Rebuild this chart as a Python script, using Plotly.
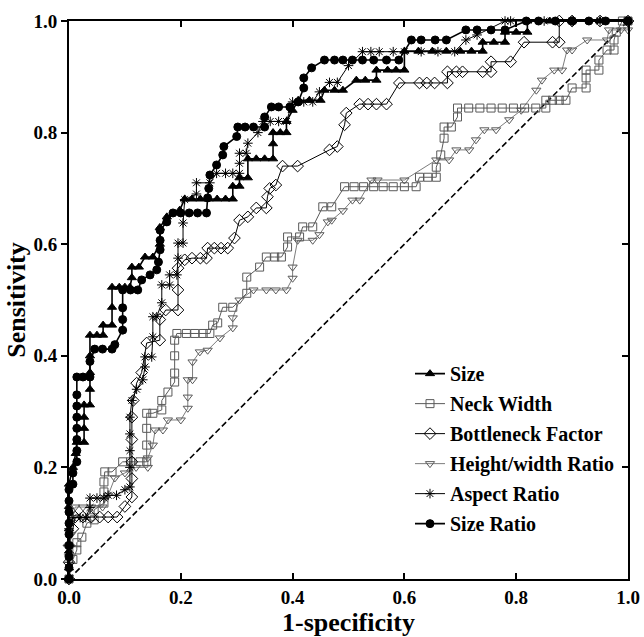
import plotly.graph_objects as go

# ---- data (1-specificity, sensitivity) ----
size_x = [0, 0, 0, 0, 0, 0, 0.007, 0.012, 0.014, 0.027, 0.027, 0.027, 0.027, 0.0375, 0.0375, 0.0375, 0.0375, 0.0375,
          0.05, 0.061, 0.061, 0.077, 0.077, 0.077, 0.09, 0.1, 0.109, 0.1125, 0.1125, 0.125, 0.136, 0.15, 0.1625, 0.1625,
          0.175, 0.198, 0.207, 0.22, 0.235, 0.25, 0.265, 0.28, 0.293, 0.293, 0.305, 0.305, 0.32, 0.32, 0.335, 0.35,
          0.365, 0.365, 0.365, 0.378, 0.389, 0.389, 0.4, 0.41, 0.43, 0.45, 0.457, 0.475, 0.49, 0.514, 0.53, 0.55,
          0.55, 0.57, 0.585, 0.6, 0.6, 0.625, 0.65, 0.675, 0.7, 0.72, 0.74, 0.74, 0.76, 0.78, 0.78, 0.8, 0.82, 0.82,
          0.86, 0.9, 0.95, 1.0]
size_y = [0, 0.02, 0.05, 0.09, 0.13, 0.17, 0.2, 0.225, 0.245, 0.245, 0.27, 0.29, 0.312, 0.312, 0.34, 0.37, 0.4, 0.437,
          0.437, 0.437, 0.455, 0.455, 0.487, 0.523, 0.523, 0.523, 0.523, 0.54, 0.559, 0.559, 0.577, 0.577, 0.6, 0.63,
          0.649, 0.661, 0.681, 0.681, 0.681, 0.681, 0.681, 0.681, 0.681, 0.704, 0.704, 0.719, 0.719, 0.753, 0.753, 0.753,
          0.753, 0.78, 0.8, 0.8, 0.8, 0.82, 0.84, 0.858, 0.858, 0.858, 0.876, 0.876, 0.876, 0.894, 0.894, 0.894,
          0.912, 0.912, 0.912, 0.912, 0.946, 0.946, 0.946, 0.946, 0.946, 0.946, 0.946, 0.962, 0.962, 0.962, 0.98, 0.98, 0.98, 1.0,
          1.0, 1.0, 1.0, 1.0]

neck_x = [0, 0.007, 0.014, 0.014, 0.023, 0.032, 0.045, 0.045, 0.0625, 0.0625, 0.0625, 0.064, 0.077, 0.096, 0.11, 0.127,
          0.139, 0.139, 0.139, 0.139, 0.15, 0.166, 0.166, 0.177, 0.189, 0.189, 0.189, 0.189, 0.193, 0.21, 0.225, 0.24,
          0.252, 0.257, 0.266, 0.275, 0.293, 0.318, 0.318, 0.341, 0.353, 0.368, 0.38, 0.391, 0.391, 0.4125, 0.418,
          0.436, 0.454, 0.47, 0.493, 0.51, 0.527, 0.545, 0.562, 0.58, 0.6, 0.621, 0.627, 0.642, 0.657, 0.657, 0.665,
          0.671, 0.671, 0.684, 0.695, 0.695, 0.715, 0.735, 0.755, 0.775, 0.795, 0.815, 0.835, 0.853, 0.853, 0.865,
          0.877, 0.889, 0.9, 0.925, 0.925, 0.925, 0.948, 0.948, 0.9625, 0.975, 0.975, 0.979, 0.99, 1.0]
neck_y = [0, 0.035, 0.052, 0.065, 0.075, 0.1, 0.106, 0.124, 0.136, 0.156, 0.174, 0.192, 0.192, 0.21, 0.21, 0.21,
          0.21, 0.24, 0.27, 0.297, 0.297, 0.303, 0.32, 0.335, 0.353, 0.369, 0.4, 0.428, 0.44, 0.44, 0.44, 0.44,
          0.44, 0.455, 0.459, 0.487, 0.487, 0.512, 0.541, 0.559, 0.577, 0.577, 0.577, 0.595, 0.613, 0.613, 0.631,
          0.631, 0.667, 0.667, 0.703, 0.703, 0.703, 0.703, 0.703, 0.703, 0.703, 0.703, 0.72, 0.72, 0.72, 0.738, 0.76,
          0.79, 0.81, 0.81, 0.828, 0.844, 0.844, 0.844, 0.844, 0.844, 0.844, 0.844, 0.844, 0.844, 0.858, 0.858,
          0.858, 0.858, 0.88, 0.88, 0.898, 0.912, 0.912, 0.93, 0.948, 0.948, 0.966, 0.98, 1.0, 1.0]

bottle_x = [0, 0, 0, 0.007, 0.011, 0.025, 0.04, 0.055, 0.07, 0.086, 0.1, 0.1125, 0.1125, 0.1125, 0.1125, 0.1125, 0.115,
            0.121, 0.13, 0.139, 0.1625, 0.1625, 0.173, 0.195, 0.195, 0.195, 0.207, 0.22, 0.235, 0.246, 0.248, 0.26,
            0.272, 0.284, 0.296, 0.305, 0.32, 0.335, 0.353, 0.355, 0.359, 0.37, 0.382, 0.409, 0.466, 0.48, 0.493,
            0.496, 0.52, 0.535, 0.55, 0.568, 0.591, 0.627, 0.64, 0.654, 0.677, 0.677, 0.693, 0.704, 0.74, 0.755,
            0.755, 0.79, 0.814, 0.865, 0.877, 0.877, 0.9, 0.95, 1.0]
bottle_y = [0, 0.03, 0.06, 0.09, 0.111, 0.111, 0.111, 0.111, 0.111, 0.111, 0.13, 0.147, 0.18, 0.21, 0.25, 0.29, 0.32,
            0.351, 0.37, 0.423, 0.428, 0.465, 0.482, 0.482, 0.518, 0.557, 0.572, 0.575, 0.575, 0.575, 0.593, 0.593,
            0.593, 0.593, 0.611, 0.643, 0.649, 0.665, 0.665, 0.685, 0.7, 0.706, 0.74, 0.74, 0.769, 0.775, 0.814,
            0.835, 0.851, 0.851, 0.851, 0.851, 0.889, 0.889, 0.889, 0.889, 0.889, 0.909, 0.909, 0.909, 0.909, 0.909,
            0.927, 0.927, 0.962, 0.962, 0.962, 1.0, 1.0, 1.0, 1.0]

hw_x = [0, 0, 0.004, 0.007, 0.011, 0.025, 0.04, 0.06, 0.07, 0.082, 0.1, 0.12, 0.141, 0.141, 0.15, 0.154, 0.168, 0.177,
        0.2, 0.2125, 0.2125, 0.2125, 0.221, 0.221, 0.234, 0.248, 0.27, 0.293, 0.293, 0.305, 0.33, 0.353, 0.37, 0.389,
        0.4, 0.4, 0.409, 0.436, 0.448, 0.463, 0.47, 0.49, 0.507, 0.52, 0.541, 0.552, 0.6, 0.657, 0.68, 0.693, 0.716,
        0.728, 0.743, 0.764, 0.7875, 0.809, 0.836, 0.846, 0.868, 0.882, 0.891, 0.9, 0.927, 0.9625, 0.966, 0.9875,
        1.0, 1.0]
hw_y = [0, 0.04, 0.08, 0.11, 0.129, 0.129, 0.129, 0.129, 0.15, 0.181, 0.19, 0.2, 0.2, 0.217, 0.24, 0.267, 0.267, 0.285,
        0.285, 0.306, 0.326, 0.357, 0.357, 0.389, 0.407, 0.41, 0.432, 0.45, 0.468, 0.5, 0.518, 0.518, 0.518, 0.518,
        0.539, 0.559, 0.607, 0.607, 0.617, 0.64, 0.643, 0.66, 0.679, 0.679, 0.715, 0.715, 0.715, 0.751, 0.751, 0.769,
        0.769, 0.787, 0.805, 0.805, 0.823, 0.84, 0.876, 0.894, 0.912, 0.912, 0.948, 0.948, 0.966, 0.966, 0.984,
        0.984, 0.984, 1.0]

aspect_x = [0, 0, 0, 0, 0.007, 0.02, 0.03, 0.0375, 0.0375, 0.05, 0.0625, 0.07, 0.085, 0.1, 0.109, 0.109, 0.109, 0.109,
            0.109, 0.1125, 0.121, 0.132, 0.136, 0.136, 0.148, 0.15, 0.15, 0.157, 0.166, 0.166, 0.18, 0.18, 0.193, 0.195,
            0.195, 0.204, 0.204, 0.207, 0.228, 0.228, 0.252, 0.264, 0.28, 0.293, 0.305, 0.305, 0.305, 0.317, 0.32,
            0.338, 0.347, 0.36, 0.375, 0.389, 0.4, 0.42, 0.436, 0.448, 0.466, 0.48, 0.5, 0.525, 0.54, 0.555, 0.58,
            0.6, 0.63, 0.66, 0.69, 0.71, 0.73, 0.78, 0.79, 0.85, 0.9, 0.95, 1.0]
aspect_y = [0, 0.03, 0.06, 0.09, 0.11, 0.11, 0.11, 0.128, 0.145, 0.145, 0.145, 0.15, 0.15, 0.16, 0.165, 0.2, 0.23, 0.26,
            0.29, 0.32, 0.34, 0.357, 0.38, 0.398, 0.398, 0.434, 0.47, 0.47, 0.495, 0.527, 0.527, 0.545, 0.545, 0.575,
            0.602, 0.602, 0.638, 0.68, 0.69, 0.71, 0.71, 0.727, 0.727, 0.727, 0.727, 0.745, 0.763, 0.763, 0.781,
            0.8, 0.82, 0.82, 0.82, 0.82, 0.855, 0.855, 0.855, 0.873, 0.89, 0.89, 0.92, 0.945, 0.945, 0.945, 0.945,
            0.945, 0.945, 0.945, 0.945, 0.966, 0.975, 1.0, 1.0, 1.0, 1.0, 1.0, 1.0]

ratio_x = [0, 0, 0, 0, 0, 0, 0, 0, 0, 0.007, 0.007, 0.014, 0.014, 0.014, 0.014, 0.014, 0.014, 0.014, 0.014, 0.025,
           0.0375, 0.0375, 0.046, 0.06, 0.077, 0.082, 0.096, 0.096, 0.096, 0.096, 0.11, 0.123, 0.13, 0.145, 0.157,
           0.16, 0.163, 0.163, 0.163, 0.175, 0.186, 0.2, 0.215, 0.23, 0.246, 0.248, 0.25, 0.252, 0.264, 0.275, 0.277,
           0.3, 0.302, 0.315, 0.33, 0.35, 0.35, 0.362, 0.375, 0.395, 0.41, 0.42, 0.42, 0.434, 0.457, 0.475, 0.49,
           0.507, 0.525, 0.545, 0.568, 0.59, 0.6125, 0.63, 0.655, 0.675, 0.71, 0.73, 0.755, 0.78, 0.818, 0.84, 0.87,
           0.9, 0.93, 0.96, 1.0]
ratio_y = [0, 0.02, 0.04, 0.06, 0.08, 0.1, 0.12, 0.14, 0.16, 0.17, 0.19, 0.21, 0.23, 0.25, 0.27, 0.29, 0.31, 0.33,
           0.362, 0.362, 0.362, 0.39, 0.412, 0.412, 0.412, 0.42, 0.446, 0.465, 0.486, 0.518, 0.518, 0.518, 0.536,
           0.545, 0.554, 0.568, 0.59, 0.607, 0.625, 0.64, 0.656, 0.656, 0.656, 0.656, 0.656, 0.683, 0.7, 0.724,
           0.742, 0.76, 0.775, 0.793, 0.81, 0.81, 0.81, 0.81, 0.828, 0.846, 0.846, 0.846, 0.855, 0.88, 0.898, 0.916,
           0.93, 0.93, 0.93, 0.93, 0.93, 0.93, 0.93, 0.93, 0.966, 0.966, 0.966, 0.966, 0.984, 0.984, 0.984, 0.984,
           1.0, 1.0, 1.0, 1.0, 1.0, 1.0, 1.0]

ref_x = [0, 1]
ref_y = [0, 1]

tick_vals = [0, 0.2, 0.4, 0.6, 0.8, 1.0]
tick_text = ["0.0", "0.2", "0.4", "0.6", "0.8", "1.0"]

FONT = "Liberation Serif"
BLACK = "#000000"
GRAY = "#5a5a5a"

fig = go.Figure()

fig.add_trace(go.Scatter(x=ref_x, y=ref_y, mode="lines", showlegend=False, hoverinfo="skip",
                         line=dict(color=BLACK, width=1.6, dash="6px,3px")))

series = [
    ("Size", size_x, size_y, BLACK, 1.6, "triangle-up", 8, BLACK),
    ("Neck Width", neck_x, neck_y, GRAY, 1.0, "square-open", 8, GRAY),
    ("Bottleneck Factor", bottle_x, bottle_y, BLACK, 1.0, "diamond-open", 9, BLACK),
    ("Height/width Ratio", hw_x, hw_y, GRAY, 0.8, "triangle-down-open", 8, GRAY),
    ("Aspect Ratio", aspect_x, aspect_y, BLACK, 1.0, "asterisk-open", 8, BLACK),
    ("Size Ratio", ratio_x, ratio_y, BLACK, 1.6, "circle", 8, BLACK),
]
for i, (name, xs, ys, col, lw, sym, ms, mcol) in enumerate(series):
    fig.add_trace(go.Scatter(
        x=xs, y=ys, mode="lines+markers", name=name, cliponaxis=False, legendgroup=f"g{i}",
        line=dict(color=col, width=lw),
        marker=dict(symbol=sym, size=ms, color=mcol, line=dict(color=mcol, width=1)),
    ))

# dummy trace for the right-hand axis with inward ticks
fig.add_trace(go.Scatter(x=[None], y=[None], yaxis="y2", showlegend=False, hoverinfo="skip"))

fig.update_layout(
    width=644, height=637,
    margin=dict(l=69, r=16, t=21, b=58, autoexpand=False),
    paper_bgcolor="white", plot_bgcolor="white",
    font=dict(family=FONT, color=BLACK, size=16, weight="bold"),
    xaxis=dict(range=[0, 1], tickvals=tick_vals, ticktext=tick_text, showgrid=False, zeroline=False,
               automargin=False,
               showline=True, linecolor=BLACK, linewidth=2, mirror="ticks", ticks="inside", ticklen=6,
               tickwidth=1.5, tickcolor=BLACK, tickfont=dict(family=FONT, size=19, weight="bold"),
               title=dict(text="1-specificity", font=dict(family=FONT, size=26, weight="bold"), standoff=5)),
    yaxis=dict(range=[0, 1], tickvals=tick_vals, ticktext=tick_text, showgrid=False, zeroline=False,
               automargin=False,
               showline=True, linecolor=BLACK, linewidth=2, mirror=True, ticks="outside", ticklen=6,
               tickwidth=1.5, tickcolor=BLACK, tickfont=dict(family=FONT, size=19, weight="bold"),
               title=dict(text="Sensitivity", font=dict(family=FONT, size=26, weight="bold"), standoff=0)),
    yaxis2=dict(range=[0, 1], overlaying="y", side="right", tickvals=tick_vals, showticklabels=False,
                automargin=False,
                showgrid=False, zeroline=False, showline=False, ticks="inside", ticklen=6, tickwidth=1.5,
                tickcolor=BLACK),
    legend=dict(x=0.61, y=0.403, xanchor="left", yanchor="top", bgcolor="rgba(0,0,0,0)",
                font=dict(family=FONT, size=20, weight="bold"), itemwidth=30, tracegroupgap=1,
                traceorder="grouped"),
)

# remove the default page margin so the 644x637 figure fills the window exactly
fig.write_html("out.html", config={"displayModeBar": False},
               post_script="document.body.style.margin='0';document.body.style.overflow='hidden';")
